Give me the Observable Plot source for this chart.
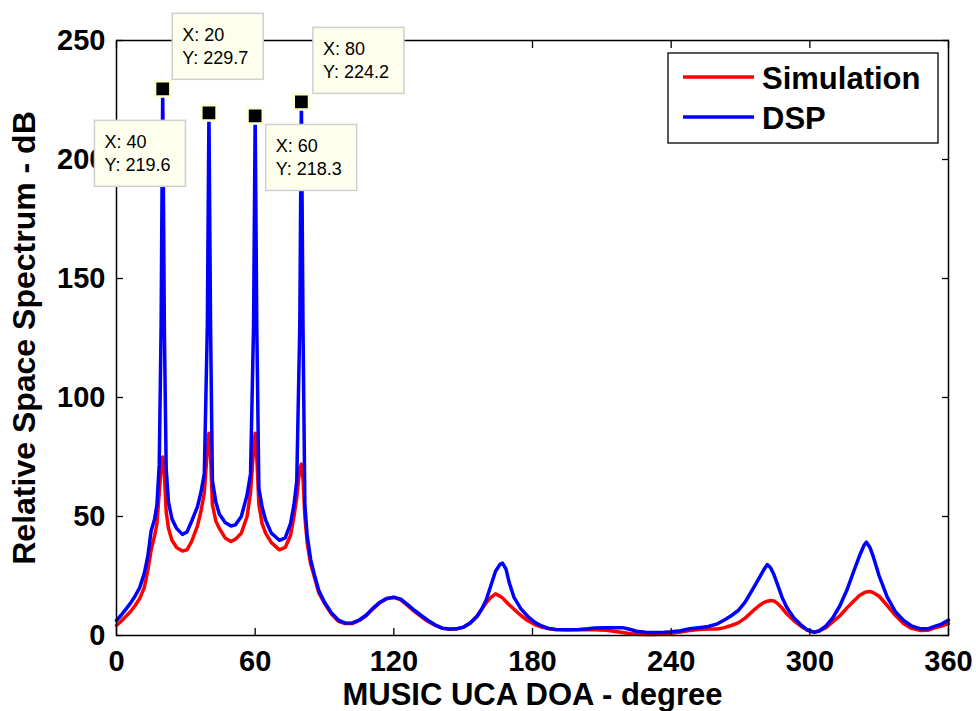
<!DOCTYPE html>
<html><head><meta charset="utf-8">
<script src="https://cdn.jsdelivr.net/npm/d3@7"></script>
<script src="https://cdn.jsdelivr.net/npm/@observablehq/plot@0.6"></script>
<style>body{margin:0;background:#fff}#chart{width:976px;height:711px}</style>
</head><body><div id="chart"></div>
<script>
// ---- data ----
const angles = [0,2,4,6,8,10,12,13.5,15,16.5,17.5,18.5,19.3,20,20.7,21.5,22.5,24,26,28.5,30.5,32.5,35,36.5,38,39.3,40,40.7,41.5,43,44.5,47,49.5,51.5,54,56.5,58,59.3,60,60.7,61.6,63,64.5,67,70.5,73,75.3,76.8,78,79.3,80,80.7,81.5,82.5,84,85.5,87.5,90,93,96,99,102,105,108,111,114,117,120,123,126,129,132,135,138,141,144,147,150,153,156,158,160,162,164,166,167,168.5,170,172,175,178,181,184,187,190,195,200,204,207,212,216,219,222,225,229,233,237,240,244,248,252,256,260,263,266,269,272,275,278,280,281.6,283,284.5,286,288,290,293,296,299,301.7,304,307,310,313,316,319,321.5,323.5,324.5,326,327.5,330,333.5,337,340.6,344,348,351,354,357,360];
const dsp = [6.3,8.5,11,13.5,16.5,20,26,33,44,49,55,72,130,229.7,130,70,56,49,45,42.5,43.5,48,54,60,68,130,219.6,130,65,56,51,47.5,46,46.5,50,59,68,130,218.3,130,62,54,48.5,43,40,41,47,55,65,130,224.2,130,55,42,32,26,19,14,9.5,6.5,5.2,5.3,6.5,8.5,11.5,14,15.6,16.1,15.3,13,10.5,8.3,6.2,4.4,3.1,2.7,2.8,3.5,5.2,8,11,15,21,27,30,30.4,28,22,16,11.2,8,5.5,4,3,2.5,2.4,2.5,2.8,3.2,3.3,3.3,3.3,2.6,1.8,1.4,1.3,1.4,1.6,2.0,2.8,3.3,3.8,4.9,6.5,8.3,10.5,14,19,24,27.5,29.8,28.5,25.5,21.5,16,11.9,7.5,4.6,2.3,1.4,1.9,4.0,7.5,12.5,19,27,33.5,38,39.2,37,33,25,16.1,10,6.3,4,2.8,2.8,3.8,4.8,6.5];
const sim = [4.2,6.0,8.0,10.0,12.5,15.5,20,27,36,42,47,60,70,75,68,52,45,40,37,35.5,36,39.5,46,52,60,78,85,75,55,48,45,41,39.5,40.5,43,50,60,78,85,75,55,47,43,39,36,37,42,50,58,70,72,66,50,39,30,25,18,13.5,9,6,5,5,6.3,8.3,11.2,13.8,15.5,16,15,12.5,10,7.8,5.8,4.2,3.0,2.6,2.7,3.4,5.2,8.2,11,13.8,16,17.5,16.5,15.8,14.3,12.8,11,8.4,6.2,4.6,3.5,2.8,2.5,2.4,2.4,2.4,2.4,2.2,1.7,1.3,0.8,0.5,0.4,0.4,0.6,0.9,1.5,2.1,2.5,2.7,2.7,3.3,4.2,5.3,7.3,10,12.5,13.8,14.4,14.7,14.5,13.5,11.5,9.1,6.3,4.0,2.2,1.4,1.9,3.3,5.8,8.3,11.5,14.5,16.8,18,18.3,18.5,18,16.5,12.6,8.5,4.9,3.0,2.1,2.2,3.2,4.0,5.0];
const seriesNames = ["Simulation", "DSP"];
const seriesColors = ["#ff0000", "#0000ff"];
const xTicks = [0, 60, 120, 180, 240, 300, 360];
const yTicks = [0, 50, 100, 150, 200, 250];
const xLabel = "MUSIC UCA DOA - degree";
const yLabel = "Relative Space Spectrum - dB";
const tipX = [20, 80, 40, 60];
const tipY = [229.7, 224.2, 219.6, 218.3];

// ---- build table ----
const rows = [];
angles.forEach((a, i) => {
  rows.push({angle: a, value: sim[i], series: seriesNames[0]});
  rows.push({angle: a, value: dsp[i], series: seriesNames[1]});
});
const tips = tipX.map((x, i) => ({x, y: tipY[i]}));
// pixel offsets of each datatip box from its point (layout only)
const tipOffsets = [[10, -75], [12, -74], [-114, 8], [11, 9]];

const font = "'Liberation Sans', Arial, Helvetica, sans-serif";
const plot = Plot.plot({
  width: 976, height: 711,
  marginLeft: 116, marginRight: 28, marginTop: 40, marginBottom: 76,
  style: {fontFamily: font, fontSize: "29px", fontWeight: "bold", color: "black", background: "white"},
  x: {domain: [0, 360]},
  y: {domain: [0, 250]},
  marks: [
    Plot.line(rows.filter(d => d.series === seriesNames[0]), {x: "angle", y: "value", stroke: seriesColors[0], strokeWidth: 3.5, strokeLinejoin: "round"}),
    Plot.line(rows.filter(d => d.series === seriesNames[1]), {x: "angle", y: "value", stroke: seriesColors[1], strokeWidth: 3.5, strokeLinejoin: "round"}),
    Plot.frame({stroke: "black", strokeWidth: 1.5}),
    Plot.axisX(xTicks, {anchor: "bottom", tickSize: -7, text: null, label: null, strokeWidth: 1.3}),
    Plot.axisX(xTicks, {anchor: "top", tickSize: -7, text: null, label: null, strokeWidth: 1.3}),
    Plot.axisY(yTicks, {anchor: "left", tickSize: -7, text: null, label: null, strokeWidth: 1.3}),
    Plot.axisY(yTicks, {anchor: "right", tickSize: -7, text: null, label: null, strokeWidth: 1.3}),
    Plot.axisX(xTicks, {anchor: "bottom", tickSize: 0, tickPadding: 15, label: null}),
    Plot.axisY(yTicks, {anchor: "left", tickSize: 0, tickPadding: 11, label: null}),
    Plot.text([xLabel], {frameAnchor: "bottom", textAnchor: "middle", dy: 69, fontSize: 31, fontWeight: "bold", lineAnchor: "bottom"}),
    Plot.text([yLabel], {frameAnchor: "left", textAnchor: "middle", rotate: -90, dx: -92, fontSize: 32, fontWeight: "bold"}),
    Plot.dot(tips, {x: "x", y: "y", symbol: "square", r: 8.6, fill: "black", stroke: "#ffffd6", strokeWidth: 2.5})
  ]
});
document.getElementById("chart").appendChild(plot);

// ---- datatip boxes and legend (positioned through the plot's scales) ----
const sx = plot.scale("x"), sy = plot.scale("y");
const svg = d3.select(plot);
tips.forEach((t, i) => {
  const px = sx.apply(t.x), py = sy.apply(t.y);
  const bx = px + tipOffsets[i][0], by = py + tipOffsets[i][1];
  const g = svg.append("g").attr("font-family", font).attr("font-size", 18)
    .attr("font-weight", "normal").attr("text-anchor", "start");
  g.append("rect").attr("x", bx).attr("y", by).attr("width", 91).attr("height", 66)
    .attr("fill", "#ffffee").attr("stroke", "#cfcfcf").attr("stroke-width", 1.5);
  g.append("text").attr("x", bx + 10).attr("y", by + 28).attr("fill", "#000").text(`X: ${t.x}`);
  g.append("text").attr("x", bx + 10).attr("y", by + 51).attr("fill", "#000").text(`Y: ${t.y}`);
});
const [x0, x1] = sx.range, [y0, y1] = sy.range;
const lx = x1 - 280, ly = y1 + 13;
const lg = svg.append("g").attr("font-family", font).attr("font-size", 31)
  .attr("font-weight", "bold").attr("text-anchor", "start");
lg.append("rect").attr("x", lx).attr("y", ly).attr("width", 270).attr("height", 90)
  .attr("fill", "white").attr("stroke", "black").attr("stroke-width", 1.3);
seriesNames.forEach((name, i) => {
  const yy = ly + 24 + i * 40;
  lg.append("line").attr("x1", lx + 15).attr("x2", lx + 86).attr("y1", yy).attr("y2", yy)
    .attr("stroke", seriesColors[i]).attr("stroke-width", 3.5);
  lg.append("text").attr("x", lx + 94).attr("y", yy + 12).attr("fill", "black").text(name);
});
</script>
</body></html>
